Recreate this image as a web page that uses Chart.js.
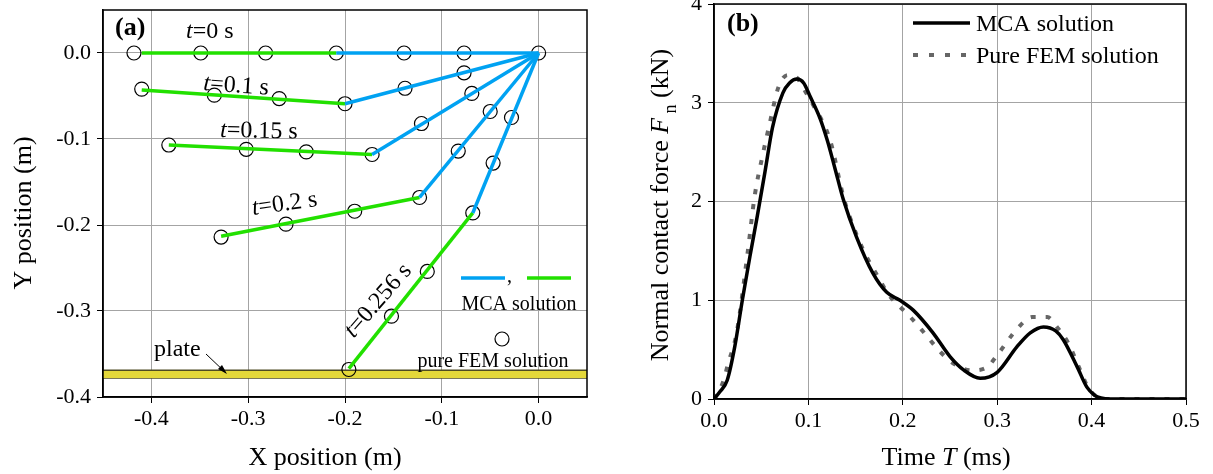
<!DOCTYPE html>
<html>
<head>
<meta charset="utf-8">
<script src="https://cdn.jsdelivr.net/npm/chart.js@4.4.1/dist/chart.umd.min.js"></script>
<style>
  html, body { margin: 0; padding: 0; background: #fff; }
  #wrap { position: relative; width: 1213px; height: 474px; }
  .panel { position: absolute; top: 0; height: 474px; }
  #pa { left: 0; width: 600px; }
  #pb { left: 600px; width: 613px; }
</style>
</head>
<body>
<div id="wrap">
  <div class="panel" id="pa"><canvas id="chartA"></canvas></div>
  <div class="panel" id="pb"><canvas id="chartB"></canvas></div>
</div>
<script>
// ---- panel (a): beam shapes, MCA solution (root->hinge blue, hinge->tip green)
const shapeLabels = ['=0 s', '=0.1 s', '=0.15 s', '=0.2 s', '=0.256 s'];
const rootX = 0.0, rootY = 0.0;
const hingeX = [-0.209, -0.200, -0.172, -0.123, -0.068];
const hingeY = [0.000, -0.059, -0.118, -0.168, -0.186];
const tipX = [-0.410, -0.410, -0.382, -0.328, -0.196];
const tipY = [0.000, -0.043, -0.107, -0.213, -0.367];

// pure FEM nodes
const femX = [-0.418, -0.349, -0.282, -0.209, -0.139, -0.077, 0.000,
              -0.410, -0.335, -0.268, -0.200, -0.138, -0.077,
              -0.382, -0.302, -0.240, -0.172, -0.121, -0.069,
              -0.328, -0.261, -0.190, -0.123, -0.083, -0.050,
              -0.196, -0.152, -0.115, -0.068, -0.047, -0.028];
const femY = [0.000, 0.000, 0.000, 0.000, 0.000, 0.000, 0.000,
              -0.042, -0.049, -0.053, -0.059, -0.041, -0.023,
              -0.107, -0.112, -0.115, -0.118, -0.082, -0.047,
              -0.214, -0.199, -0.184, -0.168, -0.114, -0.068,
              -0.368, -0.306, -0.254, -0.186, -0.128, -0.075];

const plateTop = -0.369, plateBottom = -0.378;
const xTicksA = [-0.4, -0.3, -0.2, -0.1, 0.0];
const yTicksA = [0.0, -0.1, -0.2, -0.3, -0.4];

// ---- panel (b): normal contact force vs time
const mcaT = [0, 0.006, 0.014, 0.022, 0.030, 0.038, 0.046, 0.054, 0.062, 0.073, 0.080, 0.088, 0.095,
              0.102, 0.112, 0.120, 0.128, 0.137, 0.151, 0.168, 0.183, 0.197, 0.211, 0.232, 0.250,
              0.265, 0.282, 0.300, 0.321, 0.335, 0.349, 0.362, 0.370, 0.385, 0.395, 0.403, 0.410, 0.420, 0.500];
const mcaF = [0, 0.07, 0.19, 0.53, 1.00, 1.44, 1.86, 2.30, 2.75, 3.10, 3.20, 3.24, 3.20,
              3.06, 2.85, 2.62, 2.34, 2.02, 1.64, 1.28, 1.08, 1.00, 0.90, 0.67, 0.43,
              0.29, 0.21, 0.27, 0.53, 0.67, 0.73, 0.69, 0.60, 0.32, 0.12, 0.04, 0.01, 0, 0];
const femT = [0, 0.0095, 0.015, 0.024, 0.036, 0.043, 0.052, 0.059, 0.068, 0.078, 0.087, 0.097, 0.105,
              0.123, 0.137, 0.144, 0.158, 0.176, 0.184, 0.208, 0.220, 0.243, 0.257, 0.273, 0.289,
              0.300, 0.322, 0.337, 0.353, 0.364, 0.375, 0.388, 0.396, 0.406, 0.415, 0.500];
const femF = [0, 0.17, 0.36, 0.67, 1.51, 2.05, 2.49, 2.79, 3.15, 3.28, 3.26, 3.11, 2.98,
              2.62, 2.05, 1.84, 1.51, 1.20, 1.07, 0.83, 0.70, 0.445, 0.34, 0.29, 0.32,
              0.445, 0.72, 0.83, 0.83, 0.72, 0.57, 0.29, 0.12, 0.02, 0, 0];
const xTicksB = [0.0, 0.1, 0.2, 0.3, 0.4, 0.5];
const yTicksB = [0, 1, 2, 3, 4];

const serif = '"Liberation Serif", "Times New Roman", serif';
const blue = '#00a2f2';
const green = '#22e000';

// draws a run of text pieces, italics / subscripts mixed
function drawParts(ctx, parts, x, y, angle, size, align) {
    ctx.save();
    ctx.translate(x, y);
    ctx.rotate(angle * Math.PI / 180);
    ctx.textBaseline = 'alphabetic';
    ctx.textAlign = 'left';
    ctx.fillStyle = '#000';
    const fontOf = p => (p.i ? 'italic ' : '') + (p.b ? 'bold ' : '') + (p.s ? Math.round(size * 0.7) : size) + 'px ' + serif;
    const widths = parts.map(p => { ctx.font = fontOf(p); return ctx.measureText(p.t).width; });
    const total = widths.reduce((a, b) => a + b, 0);
    let cx = align === 'center' ? -total / 2 : 0;
    parts.forEach((p, k) => {
        ctx.font = fontOf(p);
        ctx.fillText(p.t, cx, p.s ? size * 0.3 : 0);
        cx += widths[k];
    });
    ctx.restore();
}

function frame(chart) {
    const a = chart.chartArea, ctx = chart.ctx;
    ctx.save();
    ctx.strokeStyle = '#000';
    ctx.lineWidth = 1.5;
    ctx.strokeRect(a.left, a.top, a.right - a.left, a.bottom - a.top);
    ctx.restore();
}

function hLine(ctx, x1, x2, y, color, width, dash) {
    ctx.save();
    ctx.strokeStyle = color;
    ctx.lineWidth = width;
    ctx.setLineDash(dash || []);
    ctx.beginPath();
    ctx.moveTo(x1, y);
    ctx.lineTo(x2, y);
    ctx.stroke();
    ctx.restore();
}

const overlayA = {
    id: 'overlayA',
    afterDraw(chart) {
        const ctx = chart.ctx;
        frame(chart);
        drawParts(ctx, [{ t: '(a)', b: true }], 115, 35, 0, 26);
        // time labels
        const pos = [[186, 38, 0], [203, 90, 4], [220, 137, 1], [253, 215, -8]];
        pos.forEach((p, i) => drawParts(ctx, [{ t: 't', i: true }, { t: shapeLabels[i] }], p[0], p[1], p[2], 24));
        drawParts(ctx, [{ t: 't', i: true }, { t: shapeLabels[4] }], 383, 305, -49, 24, 'center');
        // plate label + arrow
        drawParts(ctx, [{ t: 'plate' }], 154, 356, 0, 24);
        ctx.save();
        ctx.strokeStyle = '#000';
        ctx.lineWidth = 1;
        ctx.beginPath();
        ctx.moveTo(206, 354);
        ctx.lineTo(226, 373);
        ctx.stroke();
        ctx.fillStyle = '#000';
        ctx.beginPath();
        ctx.moveTo(227, 374);
        ctx.lineTo(218, 369);
        ctx.lineTo(222, 365);
        ctx.closePath();
        ctx.fill();
        ctx.restore();
        // legend
        hLine(ctx, 461, 505, 278, blue, 3.5);
        drawParts(ctx, [{ t: ',' }], 507, 282, 0, 20);
        hLine(ctx, 527, 571, 278, green, 3.5);
        drawParts(ctx, [{ t: 'MCA solution' }], 519, 310, 0, 20, 'center');
        ctx.save();
        ctx.strokeStyle = '#000';
        ctx.lineWidth = 1.2;
        ctx.beginPath();
        ctx.arc(502, 339, 7, 0, Math.PI * 2);
        ctx.stroke();
        ctx.restore();
        drawParts(ctx, [{ t: 'pure FEM solution' }], 493, 367, 0, 20, 'center');
        // axis titles
        drawParts(ctx, [{ t: 'X position (m)' }], 325, 465, 0, 26, 'center');
        drawParts(ctx, [{ t: 'Y position (m)' }], 31, 213, -90, 26, 'center');
    }
};

const overlayB = {
    id: 'overlayB',
    afterDraw(chart) {
        const ctx = chart.ctx;
        frame(chart);
        drawParts(ctx, [{ t: '(b)', b: true }], 127, 31, 0, 26);
        hLine(ctx, 313, 370, 23, '#000', 3.5);
        drawParts(ctx, [{ t: 'MCA solution' }], 376, 31, 0, 24);
        hLine(ctx, 313, 370, 55, '#666', 4, [5, 11]);
        drawParts(ctx, [{ t: 'Pure FEM solution' }], 376, 63, 0, 24);
        drawParts(ctx, [{ t: 'Time ' }, { t: 'T', i: true }, { t: ' (ms)' }], 346, 465, 0, 26, 'center');
        drawParts(ctx, [{ t: 'Normal contact force ' }, { t: 'F', i: true }, { t: ' n', s: true }, { t: ' (kN)' }],
            68, 205, -90, 26, 'center');
    }
};

function axisOpts(min, max, ticks, fmt, size, isX) {
    return {
        type: 'linear',
        min: min,
        max: max,
        afterBuildTicks: s => { s.ticks = ticks.map(v => ({ value: v })); },
        afterFit: s => {
            if (isX) s.height = size; else s.width = size;
            s.paddingTop = 0; s.paddingBottom = 0; s.paddingLeft = 0; s.paddingRight = 0;
        },
        grid: { color: '#a4a4a4', lineWidth: 1, tickLength: 6, tickColor: '#000' },
        border: { color: '#000', width: 1.5 },
        ticks: {
            color: '#000',
            font: { family: serif, size: 22 },
            padding: isX ? 3 : 6,
            maxRotation: 0,
            callback: fmt
        }
    };
}

// ---- chart (a)
const dsA = [];
for (let i = 0; i < shapeLabels.length; i++) {
    dsA.push({
        data: [{ x: rootX, y: rootY }, { x: hingeX[i], y: hingeY[i] }],
        showLine: true, borderColor: blue, borderWidth: 3.5, pointRadius: 0
    });
    dsA.push({
        data: [{ x: hingeX[i], y: hingeY[i] }, { x: tipX[i], y: tipY[i] }],
        showLine: true, borderColor: green, borderWidth: 3.5, pointRadius: 0
    });
}
dsA.push({
    data: femX.map((x, i) => ({ x: x, y: femY[i] })),
    showLine: false, pointRadius: 7, pointBorderWidth: 1.2,
    pointBorderColor: '#000', pointBackgroundColor: 'rgba(0,0,0,0)'
});
dsA.push({
    data: [{ x: -0.45, y: plateTop }, { x: 0.05, y: plateTop }],
    showLine: true, pointRadius: 0, borderColor: '#4e4b22', borderWidth: 1.5,
    fill: '+1', backgroundColor: '#e4d83a'
});
dsA.push({
    data: [{ x: -0.45, y: plateBottom }, { x: 0.05, y: plateBottom }],
    showLine: true, pointRadius: 0, borderColor: '#4e4b22', borderWidth: 1.5
});

new Chart(document.getElementById('chartA'), {
    type: 'scatter',
    data: { datasets: dsA },
    options: {
        responsive: true,
        maintainAspectRatio: false,
        animation: false,
        layout: { padding: { top: 10, right: 13, left: 0, bottom: 0 } },
        plugins: { legend: { display: false }, tooltip: { enabled: false } },
        scales: {
            x: axisOpts(-0.45, 0.05, xTicksA, v => v.toFixed(1), 77, true),
            y: axisOpts(-0.4, 0.05, yTicksA, v => v.toFixed(1), 103, false)
        }
    },
    plugins: [overlayA]
});

// ---- chart (b)
new Chart(document.getElementById('chartB'), {
    type: 'scatter',
    data: {
        datasets: [
            {
                data: mcaT.map((t, i) => ({ x: t, y: mcaF[i] })),
                showLine: true, borderColor: '#000', borderWidth: 3.5, pointRadius: 0,
                cubicInterpolationMode: 'monotone', order: 0
            },
            {
                data: femT.map((t, i) => ({ x: t, y: femF[i] })),
                showLine: true, borderColor: '#666', borderWidth: 4, borderDash: [5, 10],
                pointRadius: 0, cubicInterpolationMode: 'monotone', order: 1
            }
        ]
    },
    options: {
        responsive: true,
        maintainAspectRatio: false,
        animation: false,
        layout: { padding: { top: 4, right: 27, left: 0, bottom: 0 } },
        plugins: { legend: { display: false }, tooltip: { enabled: false } },
        scales: {
            x: axisOpts(0, 0.5, xTicksB, v => v.toFixed(1), 75, true),
            y: axisOpts(0, 4, yTicksB, v => String(v), 114, false)
        }
    },
    plugins: [overlayB]
});
</script>
</body>
</html>
